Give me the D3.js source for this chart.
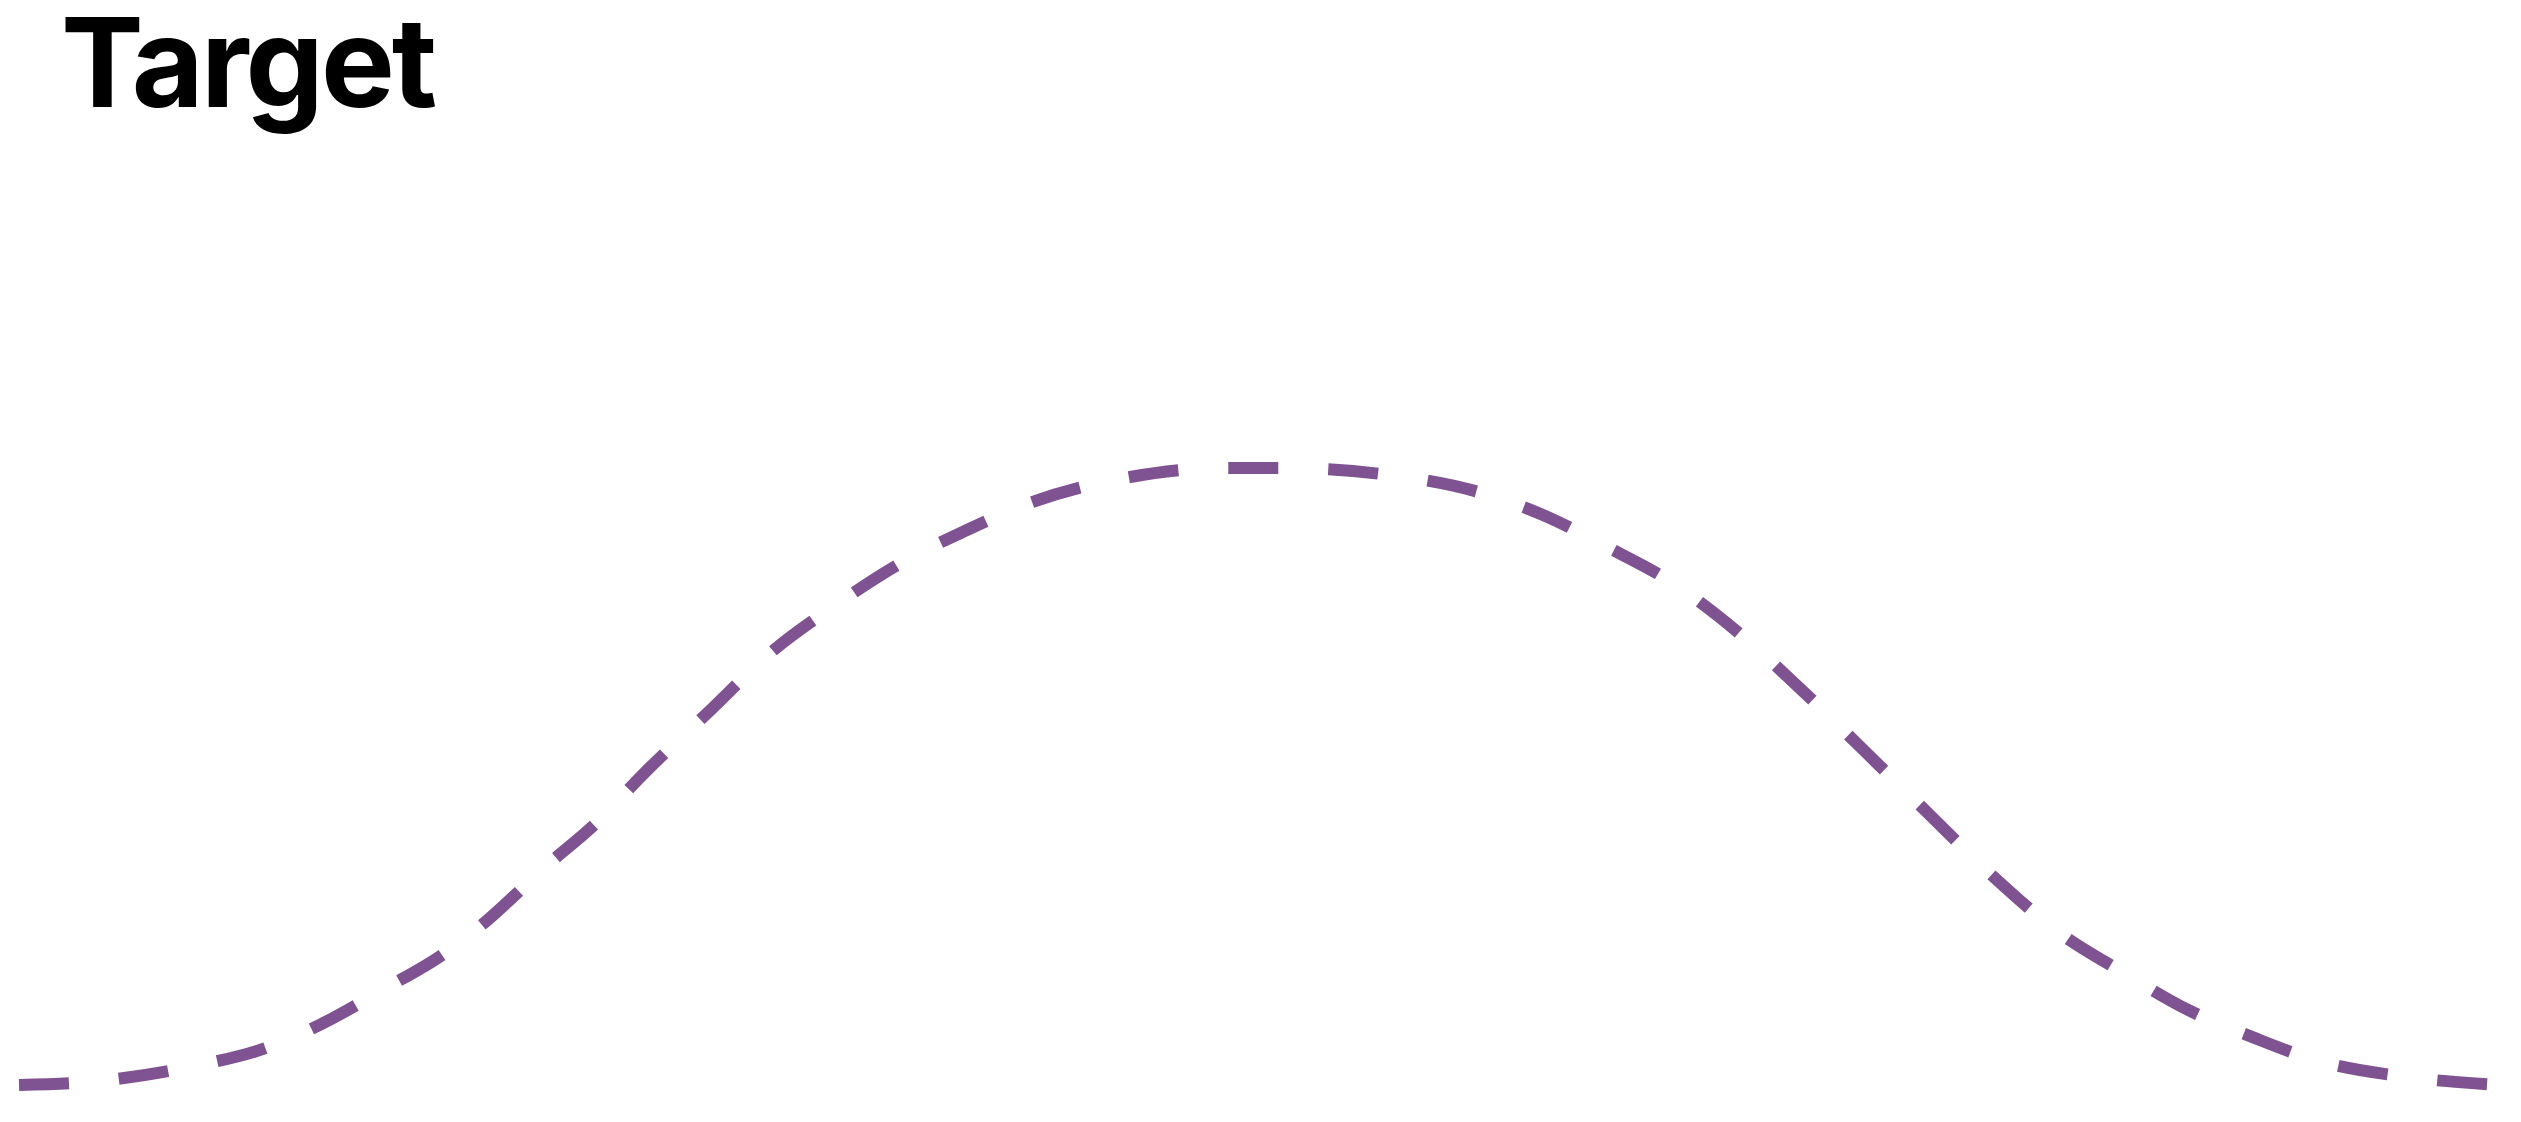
<!DOCTYPE html>
<html>
<head>
<meta charset="utf-8">
<script src="https://cdn.jsdelivr.net/npm/d3@7"></script>
<style>
  html, body { margin: 0; padding: 0; background: #ffffff; }
  svg { display: block; }
</style>
</head>
<body>
<svg id="chart" width="2521" height="1122"></svg>
<script>
const titleText = "Target";
const xValues = [0, 3.1, 7.0, 10.0, 12.2, 14.8, 17.1, 18.75, 21.4, 23.3, 25.3, 27.9, 30.5, 33.1, 35.7, 38.3, 40.9, 44.8, 48.7, 51.3, 55.2, 59.1, 61.7, 64.3, 66.9, 69.5, 72.1, 74.7, 77.3, 79.9, 82.6, 85.2, 87.8, 90.4, 93.0, 96.9, 100];
const yValues = [0, 0.6, 3.0, 6.0, 9.8, 15.6, 21.0, 26.0, 35.7, 42.2, 50.5, 60.4, 70.3, 77.9, 84.6, 89.8, 94.3, 98.4, 100, 100, 99.0, 96.1, 92.4, 87.2, 81.5, 73.7, 64.3, 54.2, 44.0, 33.9, 24.7, 18.2, 12.2, 7.8, 4.0, 1.2, 0.1];

const W = 2521, H = 1122;
const svg = d3.select("#chart");

const x = d3.scaleLinear().domain([0, 100]).range([19, 2489]);
const y = d3.scaleLinear().domain([0, 100]).range([1085, 468]);

const data = xValues.map((v, i) => ({ x: v, y: yValues[i] }));

const line = d3.line()
  .x(d => x(d.x))
  .y(d => y(d.y))
  .curve(d3.curveMonotoneX);

svg.append("path")
  .datum(data)
  .attr("d", line)
  .attr("fill", "none")
  .attr("stroke", "#7f5292")
  .attr("stroke-width", 12)
  .attr("stroke-dasharray", "50,50");

svg.append("text")
  .attr("x", 61)
  .attr("y", 107)
  .attr("font-family", "Inter, 'Noto Sans', sans-serif")
  .attr("font-weight", 700)
  .attr("font-size", 124)
  .attr("letter-spacing", "-2.9px")
  .attr("fill", "#000000")
  .text(titleText);
</script>
</body>
</html>
